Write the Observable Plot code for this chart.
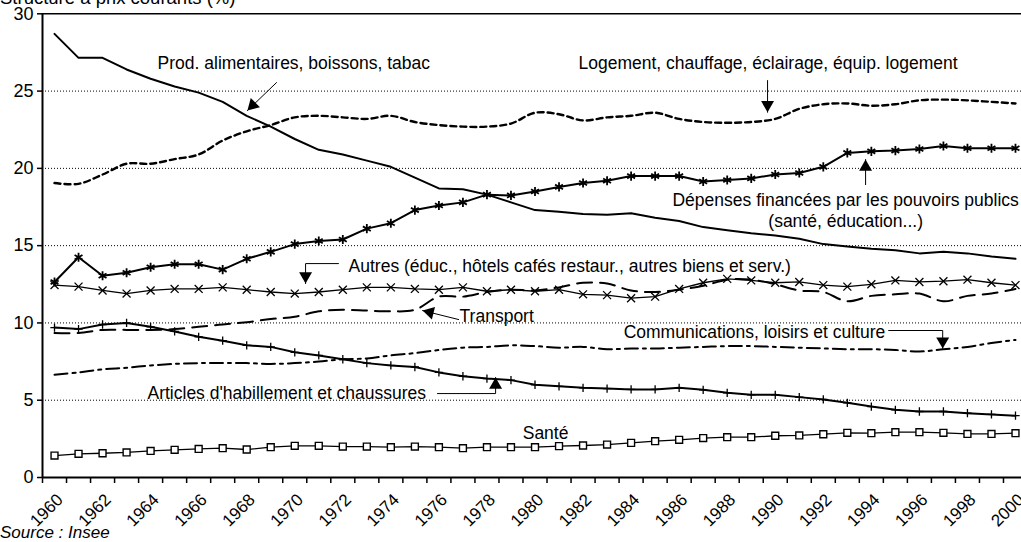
<!DOCTYPE html>
<html><head><meta charset="utf-8">
<script src="https://cdn.jsdelivr.net/npm/d3@7"></script>
<script src="https://cdn.jsdelivr.net/npm/@observablehq/plot@0.6"></script>
<style>
html,body{margin:0;padding:0;background:#fff;width:1021px;height:542px;overflow:hidden;font-family:"Liberation Sans",Arial,sans-serif;color:#000;}
#wrap{position:relative;width:1021px;height:542px;}
#chart{position:absolute;left:0;top:0;}
#title{position:absolute;left:0;top:-11px;font-size:18.5px;line-height:1;z-index:2;white-space:nowrap;}
#source{position:absolute;left:0;top:524px;font-size:17px;line-height:1;font-style:italic;white-space:nowrap;}
</style></head><body>
<div id="wrap"><div id="chart"></div><div id="title">Structure à prix courants (%)</div><div id="source">Source : Insee</div></div>
<script>
const years = [1960,1961,1962,1963,1964,1965,1966,1967,1968,1969,1970,1971,1972,1973,1974,1975,1976,1977,1978,1979,1980,1981,1982,1983,1984,1985,1986,1987,1988,1989,1990,1991,1992,1993,1994,1995,1996,1997,1998,1999,2000];
const yearLabels = [1960,1962,1964,1966,1968,1970,1972,1974,1976,1978,1980,1982,1984,1986,1988,1990,1992,1994,1996,1998,2000];
const yTicks = [0,5,10,15,20,25,30];

const alimentation = [28.7,27.15,27.15,26.4,25.8,25.3,24.9,24.3,23.4,22.7,21.9,21.2,20.9,20.5,20.1,19.4,18.7,18.65,18.3,17.8,17.3,17.2,17.05,17.0,17.1,16.8,16.6,16.2,16.0,15.8,15.65,15.45,15.1,14.95,14.8,14.7,14.5,14.6,14.5,14.3,14.15];
const logement = [19.05,19.0,19.6,20.3,20.3,20.6,20.9,21.8,22.4,22.8,23.3,23.4,23.3,23.2,23.4,23.0,22.8,22.7,22.7,22.9,23.6,23.5,23.1,23.3,23.4,23.6,23.2,23.0,22.95,23.0,23.2,23.85,24.15,24.2,24.05,24.15,24.4,24.45,24.4,24.3,24.2];
const depensesPubliques = [12.65,14.25,13.05,13.25,13.6,13.8,13.8,13.45,14.15,14.6,15.1,15.3,15.4,16.1,16.45,17.3,17.6,17.8,18.3,18.25,18.5,18.8,19.05,19.2,19.5,19.5,19.5,19.15,19.25,19.35,19.6,19.7,20.1,21.0,21.1,21.15,21.25,21.45,21.3,21.3,21.3];
const autres = [12.45,12.35,12.1,11.9,12.1,12.2,12.2,12.3,12.15,12.0,11.9,12.0,12.15,12.3,12.3,12.2,12.15,12.3,12.05,12.15,12.05,12.15,11.85,11.8,11.6,11.7,12.2,12.6,12.85,12.75,12.6,12.65,12.45,12.35,12.5,12.75,12.65,12.7,12.8,12.6,12.45];
const transport = [9.35,9.35,9.55,9.55,9.55,9.6,9.75,9.9,10.05,10.25,10.4,10.75,10.85,10.8,10.75,10.85,11.7,11.7,12.0,12.15,12.1,12.3,12.6,12.55,12.1,12.0,12.15,12.4,12.8,12.8,12.5,12.1,12.0,11.4,11.75,11.85,11.9,11.4,11.75,11.9,12.2];
const communications = [6.65,6.8,7.0,7.1,7.25,7.35,7.4,7.4,7.4,7.35,7.4,7.5,7.65,7.7,7.9,8.05,8.25,8.4,8.45,8.55,8.5,8.4,8.45,8.3,8.35,8.35,8.4,8.45,8.5,8.5,8.45,8.4,8.35,8.3,8.3,8.25,8.15,8.3,8.45,8.7,8.9];
const habillement = [9.7,9.6,9.9,10.0,9.75,9.45,9.1,8.85,8.55,8.45,8.1,7.9,7.65,7.4,7.25,7.15,6.8,6.55,6.4,6.3,6.0,5.9,5.8,5.75,5.7,5.7,5.8,5.67,5.48,5.35,5.35,5.2,5.05,4.83,4.59,4.38,4.27,4.27,4.16,4.08,4.0];
const sante = [1.42,1.53,1.57,1.62,1.72,1.79,1.85,1.9,1.81,1.96,2.05,2.05,2.0,2.0,1.96,2.0,1.96,1.9,1.96,1.96,1.96,2.03,2.07,2.13,2.24,2.35,2.44,2.55,2.61,2.61,2.7,2.72,2.8,2.89,2.87,2.93,2.93,2.89,2.82,2.82,2.87];

// annotation labels (data coordinates)
const labelTexts = ["Prod. alimentaires, boissons, tabac","Logement, chauffage, éclairage, équip. logement","Dépenses financées par les pouvoirs publics\n(santé, éducation...)","Autres (éduc., hôtels cafés restaur., autres biens et serv.)","Transport","Communications, loisirs et culture","Articles d'habillement et chaussures","Santé"];
const labelX = [1964.29,1981.81,1992.93,1972.24,1976.86,1983.69,1963.87,1980.44];
const labelY = [26.84,26.84,17.30,13.71,10.48,9.44,5.50,2.91];
const labelAnchor = ["start","start","middle","start","start","start","start","middle"];

// leader lines: each a polyline ending at the arrow tip
const leaderX = [[1969.24,1968.03],[1989.68,1989.68],[1993.76,1993.76],[1971.82,1970.45,1970.45],[1976.82,1975.32],[1994.72,1996.97,1996.97],[1975.94,1978.36,1978.36]];
const leaderY = [[25.55,23.74],[25.68,23.63],[18.95,20.57],[13.84,13.84,12.55],[10.22,10.80],[9.51,9.51,8.34],[5.43,5.43,6.47]];
const arrowAngle = [225,180,0,180,284,180,0];

const series = [
  {v: alimentation, w: 2, dash: null, curve: "linear"},
  {v: logement, w: 2.4, dash: "6,4", curve: "catmull-rom"},
  {v: depensesPubliques, w: 2, dash: null, curve: "linear", sym: "asterisk", r: 4.3, sw: 1.8},
  {v: autres, w: 1.3, dash: null, curve: "linear", sym: "times", r: 3.7, sw: 1.3},
  {v: transport, w: 2, dash: "15,8", curve: "catmull-rom"},
  {v: communications, w: 2, dash: "13,5,3,5", curve: "catmull-rom"},
  {v: habillement, w: 2, dash: null, curve: "linear", sym: "plus", r: 2.8, sw: 1.3},
  {v: sante, w: 1.3, dash: null, curve: "linear", sym: "square", r: 3.9, sw: 1.4, fill: "#fff"}
];

// scale geometry used for label offsets (px per unit)
const X0 = 1959.5, X1 = 2000.25, ML = 42, W = 1021;
const pxPerYear = (W - ML) / (X1 - X0);
const Y_TOP = 13.3, Y_BOT = 477, pxPerUnit = (Y_BOT - Y_TOP) / 30;

const marks = [];
marks.push(Plot.ruleY([5,10,15,20,25], {stroke: "#000", strokeWidth: 1, strokeDasharray: "1,2"}));
for (const s of series) {
  const data = years.map((y, i) => ({x: y, y: s.v[i]}));
  marks.push(Plot.line(data, {x: "x", y: "y", stroke: "#000", strokeWidth: s.w, strokeDasharray: s.dash, curve: s.curve}));
}
for (const s of series) {
  if (!s.sym) continue;
  const data = years.map((y, i) => ({x: y, y: s.v[i]}));
  marks.push(Plot.dot(data, {x: "x", y: "y", symbol: s.sym, r: s.r, stroke: "#000", strokeWidth: s.sw, fill: s.fill || "none"}));
}
// frame lines
marks.push(Plot.ruleY([30], {stroke: "#000", strokeWidth: 1.5}));
marks.push(Plot.ruleY([0], {stroke: "#000", strokeWidth: 2}));
marks.push(Plot.ruleX([1959.5], {stroke: "#000", strokeWidth: 2}));
// axes
const boundaries = years.map(y => y - 0.5).concat([2000.5]);
marks.push(Plot.axisX({ticks: boundaries, tickSize: 6, tickFormat: () => "", label: null, strokeWidth: 1.5}));
marks.push(Plot.axisY({ticks: yTicks, tickSize: 5, tickPadding: 4, fontSize: 18, label: null, tickFormat: d => String(d), strokeWidth: 1.5}));
// rotated year labels: anchored at their end, just below the axis
marks.push(Plot.text(yearLabels, {
  x: d => d + 5.5 / pxPerYear,
  y: () => -19.5 / pxPerUnit,
  text: d => String(d), rotate: -45, textAnchor: "end", lineAnchor: "middle", fontSize: 17, fill: "#000"
}));
// annotations
const labels = labelTexts.map((t, i) => ({t, x: labelX[i], y: labelY[i], a: labelAnchor[i]}));
for (const a of ["start","middle"]) {
  marks.push(Plot.text(labels.filter(d => d.a === a), {x: "x", y: "y", text: "t", textAnchor: a, fontSize: 17.5, lineHeight: 1.2, fill: "#000"}));
}
const leaderPts = [];
leaderX.forEach((xs, k) => xs.forEach((x, j) => leaderPts.push({k, x, y: leaderY[k][j]})));
marks.push(Plot.line(leaderPts, {x: "x", y: "y", z: "k", stroke: "#000", strokeWidth: 1}));
const headR = 4.8, headD = 2 * 0.7776 * headR;
leaderX.forEach((xs, k) => {
  const n = xs.length - 1;
  const th = arrowAngle[k] * Math.PI / 180;
  const ux = Math.sin(th), uy = -Math.cos(th);
  marks.push(Plot.dot([{x: xs[n] - ux * headD / pxPerYear, y: leaderY[k][n] + uy * headD / pxPerUnit}], {x: "x", y: "y", symbol: "triangle", r: headR, fill: "#000", stroke: "none", rotate: arrowAngle[k]}));
});

const chart = Plot.plot({
  width: W, height: 524,
  marginLeft: ML, marginRight: 0, marginTop: Y_TOP, marginBottom: 524 - Y_BOT,
  style: {fontFamily: '"Liberation Sans", Arial, sans-serif', background: "transparent", color: "#000", overflow: "visible"},
  x: {type: "linear", domain: [X0, X1], axis: null},
  y: {domain: [0, 30], axis: null},
  marks
});
document.getElementById("chart").appendChild(chart);
</script>
</body></html>
